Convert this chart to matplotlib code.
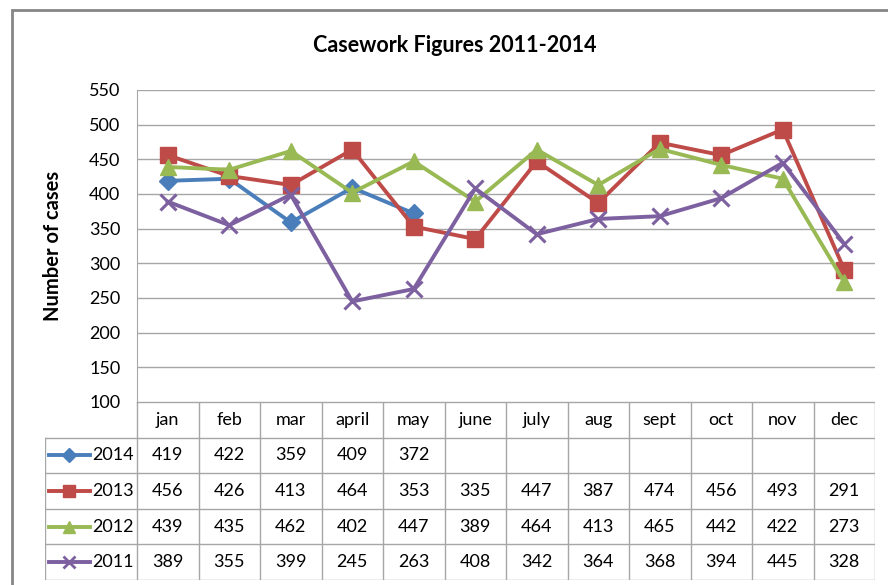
import matplotlib

matplotlib.use("Agg")
import matplotlib.pyplot as plt
from matplotlib.patches import Rectangle

plt.rcParams["font.family"] = ["Lato", "DejaVu Sans"]

# chart data
months = ["jan", "feb", "mar", "april", "may", "june", "july", "aug",
          "sept", "oct", "nov", "dec"]
cases_2014 = [419, 422, 359, 409, 372]
cases_2013 = [456, 426, 413, 464, 353, 335, 447, 387, 474, 456, 493, 291]
cases_2012 = [439, 435, 462, 402, 447, 389, 464, 413, 465, 442, 422, 273]
cases_2011 = [389, 355, 399, 245, 263, 408, 342, 364, 368, 394, 445, 328]
years = ["2014", "2013", "2012", "2011"]
y_ticks = [100, 150, 200, 250, 300, 350, 400, 450, 500, 550]

series = [
    (years[0], cases_2014, "#4a7ebb", "D", 9),
    (years[1], cases_2013, "#be4b48", "s", 11),
    (years[2], cases_2012, "#98b954", "^", 11.5),
    (years[3], cases_2011, "#7d60a0", "x", 11),
]

W, H = 888, 585
fig = plt.figure(figsize=(W / 100, H / 100), dpi=100)

# outer chart border (runs off right/bottom edge)
fig.add_artist(Rectangle((12 / W, -0.1), 1.0, 1 - 10 / H + 0.1,
                         transform=fig.transFigure, fill=False,
                         edgecolor="#868686", lw=2))

grid_col = "#a6a6a6"
ax = fig.add_axes([137 / W, 1 - 402 / H, (875 - 137) / W, (402 - 90) / H])
for name, vals, col, mk, ms in series:
    xs = range(len(vals))
    ax.plot(xs, vals, color=col, lw=2.8, marker=mk, ms=ms,
            mew=2.2 if mk == "x" else 1, solid_joinstyle="round")
ax.set_xlim(-0.5, 11.5)
ax.set_ylim(100, 550)
ax.set_yticks(y_ticks)
ax.set_xticks([])
ax.tick_params(axis="y", length=0, labelsize=13, pad=12)
ax.yaxis.grid(True, color=grid_col, lw=1)
ax.set_axisbelow(True)
for side in ["top", "right", "bottom"]:
    ax.spines[side].set_visible(False)
ax.spines["left"].set_color(grid_col)
ax.set_ylabel("Number of cases", fontsize=14.5, fontweight="bold")
ax.yaxis.set_label_coords(-0.100, 0.5)

fig.text(455 / W, 1 - 45 / H, "Casework Figures 2011-2014", ha="center",
         va="center", fontsize=15.5, fontweight="bold")

# data table below the plot
left_col = 92 / 61.5
tab = fig.add_axes([45 / W, 1 - 580 / H, (875 - 45) / W, (580 - 402) / H])
tab.set_xlim(-0.5 - left_col, 11.5)
tab.set_ylim(5, 0)
tab.axis("off")

line_kw = dict(color=grid_col, lw=1)
tab.plot([-0.5, 11.5], [0, 0], **line_kw)
for r in range(1, 6):
    tab.plot([-0.5 - left_col, 11.5], [r, r], **line_kw)
tab.plot([-0.5 - left_col] * 2, [1, 5], **line_kw)
for k in range(13):
    tab.plot([k - 0.5] * 2, [0, 5], **line_kw)

for k, m in enumerate(months):
    tab.text(k, 0.5, m, ha="center", va="center", fontsize=13)

for r, (name, vals, col, mk, ms) in enumerate(series, start=1):
    x0 = -0.5 - left_col
    lx = [x0 + 4 / 61.5, x0 + 45 / 61.5]
    tab.plot(lx, [r + 0.5] * 2, color=col, lw=2.8)
    tab.plot([sum(lx) / 2], [r + 0.5], color=col, marker=mk, ms=ms * 0.75,
             mew=2 if mk == "x" else 1, ls="none")
    tab.text(-0.5 - 3 / 61.5, r + 0.5, name, ha="right", va="center",
             fontsize=13)
    for k, v in enumerate(vals):
        tab.text(k, r + 0.5, str(v), ha="center", va="center", fontsize=13)

fig.savefig("out.png", dpi=100)
